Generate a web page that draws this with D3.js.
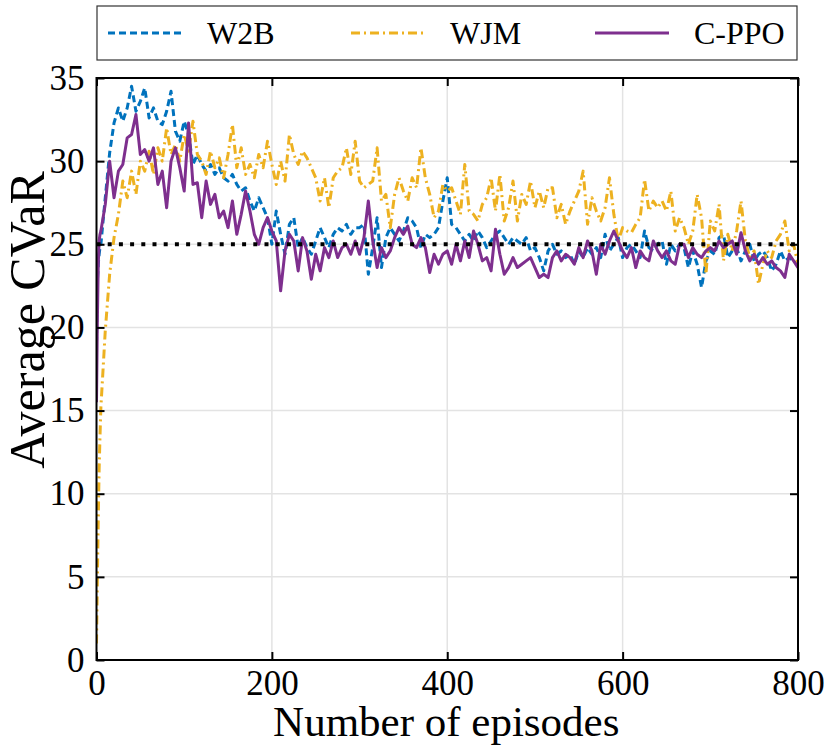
<!DOCTYPE html>
<html>
<head>
<meta charset="utf-8">
<script src="https://cdn.jsdelivr.net/npm/d3@7"></script>
<style>
  html, body { margin: 0; padding: 0; background: #fff; }
  svg { display: block; }
  text { font-family: "Liberation Serif", "Times New Roman", serif; fill: #000; }
</style>
</head>
<body>
<div id="chart"></div>
<script>
// ---------- data ----------
const episodes = [0, 1, 2, 3, 4].concat(d3.range(5, 801, 5));

const seriesNames = ["W2B", "WJM", "C-PPO"];

const w2b = [
  19, 22.8, 23.8, 24.4, 24.8,
  25, 27.8, 30.5, 32.3, 33.2, 32.4, 33.2, 34.5, 33, 33.6,
  34.4, 32.6, 33.2, 32.4, 32.2, 33, 34.2, 31.8, 31.2, 32.4,
  31.6, 29.8, 30.4, 29.8, 29.4, 29.8, 29.2, 29.6, 29, 28.8,
  29.2, 28.6, 28.2, 28.4, 27.6, 27, 27.8, 27.2, 26.6, 25,
  27, 25.6, 24.4, 26.2, 26.6, 24.8, 25.4, 24.8, 24.4, 25.2,
  26, 25.4, 24.8, 25.6, 26, 25.8, 26.2, 25.6, 26, 26,
  26.2, 23.2, 24.8, 26.6, 23.6, 25.4, 26, 25.6, 25.2, 25.8,
  26.6, 26.4, 26, 24.8, 25.6, 25.4, 25.6, 26, 27.6, 29,
  26.2, 26, 25.6, 25.2, 25.6, 25.2, 25.8, 25.4, 24.8, 25.2,
  25.6, 25.8, 25.4, 25, 25.4, 25.2, 25, 25.4, 24.6, 24.8,
  24.2, 23.4, 24.6, 25, 24.4, 24.6, 24.2, 24.4, 23.8, 24.6,
  24.2, 24.8, 24.4, 24.8, 24.2, 25.6, 24.6, 25, 25.4, 24.2,
  24.8, 25, 24.6, 24.2, 25.8, 24.8, 24.6, 25, 25.2, 23.8,
  25, 24.6, 25, 24.8, 23.6, 24.6, 23.8, 22.4, 24, 24.6,
  24.4, 25.4, 25.6, 24.2, 24.6, 24.8, 24, 24.6, 25, 24,
  24.4, 24.6, 24.2, 23.4, 23.8, 24.6, 24, 24.2, 24, 23.8
];

const wjm = [
  1, 5, 8.5, 11.5, 13.5,
  15.2, 19.8, 23.2, 25.4, 26.8, 28.8, 27.8, 29.4, 28, 30,
  29.4, 30.6, 29.2, 30.8, 30, 32, 30.4, 31, 30, 31.6,
  30.6, 32.4, 30.4, 30, 29.2, 30.6, 29.6, 30.2, 29, 30.4,
  32.2, 29.6, 30.8, 29.2, 29.8, 29, 30.4, 29.6, 31.2, 29.8,
  28.6, 30, 28.8, 31.6, 30.4, 29.8, 30.6, 30.2, 29.6, 29,
  27.6, 29, 27.2, 29, 29.4, 29.6, 30.8, 29.2, 31.2, 28.8,
  28.4, 28.6, 28.8, 30.8, 27.6, 28, 26, 28, 29, 28.2,
  27.6, 29, 28.4, 30.8, 29, 28, 26.6, 27, 28.6, 28.2,
  28.4, 27.6, 26.8, 29.8, 27, 26.8, 26.4, 27.4, 27.8, 29,
  27, 29.2, 26.4, 27.2, 28.8, 26.4, 28, 27.4, 28.8, 27.2,
  28.2, 27.2, 28.4, 28.4, 26.6, 27.4, 26.2, 27, 27.6, 28.2,
  29.4, 26.2, 27.8, 27, 26.4, 27.2, 29, 26.8, 25.2, 26,
  25.8, 25.7, 26.2, 26.6, 28.9, 27, 27.6, 27.2, 27.6, 27,
  28.2, 25.8, 26.6, 26, 25, 25.8, 28, 26.6, 23.2, 26.4,
  25.8, 27.4, 24, 25.6, 24.6, 25.8, 27.6, 25.2, 24.2, 24.6,
  22.6, 23.8, 24.6, 24.2, 25.2, 25.6, 26.4, 24.6, 25, 23.8
];

const cppo = [
  15.5, 20.5, 23.8, 25.2, 25.6,
  25.8, 27.4, 30, 27.8, 29.4, 29.8, 31.4, 31.6, 32.8, 30.4,
  30.7, 30, 30.8, 28.6, 29.4, 27.2, 30, 30.8, 29.6, 28.2,
  32.3, 28.6, 28.7, 26.6, 28.8, 27.4, 28, 26.6, 27, 26,
  27.6, 25.6, 26.8, 28.2, 27, 25.6, 25, 26, 26.6, 25.8,
  25.2, 22.2, 24.6, 25.6, 25.2, 23.4, 25.4, 24.6, 22.9, 24.4,
  23.4, 24.8, 24.2, 25.2, 24.2, 24.8, 25, 24.4, 25.2, 24.4,
  25.4, 27.6, 25.2, 23.6, 24.8, 24.2, 24.6, 25.4, 26, 25.6,
  26.1, 25, 24.8, 25.4, 24.8, 23.3, 24.4, 23.8, 24.4, 24.6,
  23.8, 25, 24, 25.2, 24.2, 25.8, 25, 24, 24.2, 23.4,
  25.9, 24.4, 23.2, 23.6, 24.2, 23.6, 23.8, 24, 24.2, 23.6,
  23, 23.2, 23, 24.2, 24.6, 24, 24.4, 24.2, 23.8, 24.8,
  24.2, 25.2, 24.6, 23.2, 25, 24.4, 25.2, 25.8, 25.2, 24.6,
  24.2, 24.8, 23.6, 24.6, 24.2, 24, 25.2, 24.6, 24.2, 24.6,
  24, 23.8, 25, 25, 24.2, 24.8, 24.4, 24.2, 24.6, 24.8,
  24.6, 25.2, 24.8, 25, 25.2, 24.4, 25.7, 24.6, 24, 24.4,
  23.8, 24.2, 23.8, 24, 23.6, 23.4, 23, 24.4, 24, 23.6
];

const thresholdValue = 25;
const xTicks = [0, 200, 400, 600, 800];
const yTicks = [0, 5, 10, 15, 20, 25, 30, 35];

// ---------- layout / style ----------
const W = 824, H = 745;
const plot = { left: 96.5, right: 798, top: 78, bottom: 660 };
const styles = [
  { color: "#0072BD", dash: "7,4" },
  { color: "#EDB120", dash: "9,4,2,4" },
  { color: "#7E2F8E", dash: null }
];
const seriesValues = [w2b, wjm, cppo];

const svg = d3.select("#chart").append("svg")
  .attr("width", W).attr("height", H);

const x = d3.scaleLinear().domain([0, 800]).range([plot.left, plot.right]);
const y = d3.scaleLinear().domain([0, 35]).range([plot.bottom, plot.top]);

// grid
const grid = svg.append("g");
grid.selectAll("line.gy").data(yTicks.slice(1, -1)).join("line")
  .attr("x1", plot.left).attr("x2", plot.right)
  .attr("y1", d => y(d)).attr("y2", d => y(d))
  .attr("stroke", "#e3e3e3").attr("stroke-width", 1.5);
grid.selectAll("line.gx").data(xTicks.slice(1, -1)).join("line")
  .attr("y1", plot.top).attr("y2", plot.bottom)
  .attr("x1", d => x(d)).attr("x2", d => x(d))
  .attr("stroke", "#e3e3e3").attr("stroke-width", 1.5);

// series
const line = d3.line().x((d, i) => x(episodes[i])).y(d => y(d));
const clip = svg.append("clipPath").attr("id", "clip").append("rect")
  .attr("x", plot.left).attr("y", plot.top)
  .attr("width", plot.right - plot.left).attr("height", plot.bottom - plot.top);
const lines = svg.append("g").attr("clip-path", "url(#clip)");
seriesValues.forEach((vals, k) => {
  lines.append("path")
    .datum(vals)
    .attr("d", line)
    .attr("fill", "none")
    .attr("stroke", styles[k].color)
    .attr("stroke-width", 3)
    .attr("stroke-linejoin", "round")
    .attr("stroke-dasharray", styles[k].dash);
});

// threshold dotted line
lines.append("line")
  .attr("x1", x(0)).attr("x2", x(800))
  .attr("y1", y(thresholdValue)).attr("y2", y(thresholdValue))
  .attr("stroke", "#000").attr("stroke-width", 4)
  .attr("stroke-dasharray", "4,7.2");

// axes (ticks inward)
const tickFont = 35;
const axB = d3.axisBottom(x).tickValues(xTicks).tickSize(-8).tickPadding(10).tickFormat(d3.format("d"));
const axL = d3.axisLeft(y).tickValues(yTicks).tickSize(-8).tickPadding(12).tickFormat(d3.format("d"));
const axT = d3.axisTop(x).tickValues(xTicks).tickSize(-8).tickFormat("");
const axR = d3.axisRight(y).tickValues(yTicks).tickSize(-8).tickFormat("");

function styleAxis(g) {
  g.select(".domain").remove();
  g.selectAll(".tick line").attr("stroke", "#000").attr("stroke-width", 2);
  g.selectAll(".tick text").style("font-size", tickFont + "px")
    .style("font-family", "'Liberation Serif', 'Times New Roman', serif").attr("fill", "#000");
}
svg.append("g").attr("transform", `translate(0,${plot.bottom})`).call(axB).call(styleAxis);
svg.append("g").attr("transform", `translate(${plot.left},0)`).call(axL).call(styleAxis);
svg.append("g").attr("transform", `translate(0,${plot.top})`).call(axT).call(styleAxis);
svg.append("g").attr("transform", `translate(${plot.right},0)`).call(axR).call(styleAxis);

// frame
svg.append("rect")
  .attr("x", plot.left).attr("y", plot.top)
  .attr("width", plot.right - plot.left).attr("height", plot.bottom - plot.top)
  .attr("fill", "none").attr("stroke", "#000").attr("stroke-width", 2);

// axis titles
svg.append("text")
  .attr("x", (plot.left + plot.right) / 2 - 1).attr("y", 736)
  .attr("text-anchor", "middle")
  .style("font-size", "43px")
  .text("Number of episodes");
svg.append("text")
  .attr("transform", `translate(44,320) rotate(-90)`)
  .attr("text-anchor", "middle")
  .style("font-size", "50px")
  .text("Average CVaR");

// legend
const legend = svg.append("g");
legend.append("rect")
  .attr("x", 97).attr("y", 6).attr("width", 700).attr("height", 54)
  .attr("fill", "#fff").attr("stroke", "#333").attr("stroke-width", 1.2);
const legendX = [108, 351, 595];
seriesNames.forEach((name, k) => {
  const g = legend.append("g").attr("transform", `translate(${legendX[k]},33)`);
  g.append("line").attr("x1", 0).attr("x2", 74).attr("y1", 0).attr("y2", 0)
    .attr("stroke", styles[k].color).attr("stroke-width", 3)
    .attr("stroke-dasharray", styles[k].dash);
  g.append("text").attr("x", 99).attr("y", 11)
    .style("font-size", "32px").text(name);
});
</script>
</body>
</html>
